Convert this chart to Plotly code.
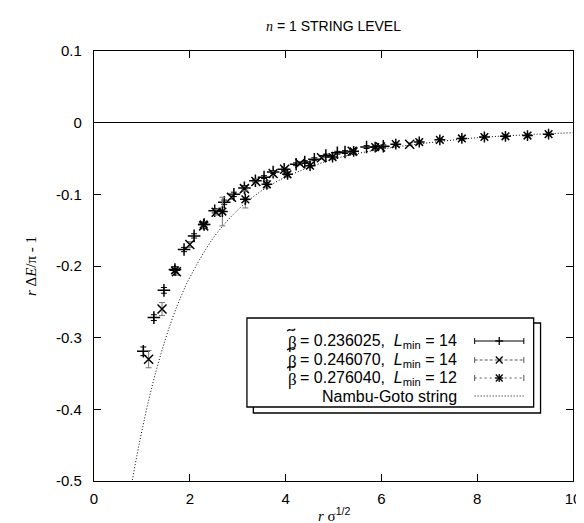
import plotly.graph_objects as go

# ---------------- data ----------------
# beta~ = 0.236025, Lmin = 14   ('+')
s1_x = [1.03, 1.25, 1.46, 1.69, 1.88, 2.09, 2.30, 2.52, 2.72, 2.92, 3.14, 3.37, 3.55,
        3.74, 3.97, 4.22, 4.40, 4.60, 4.84, 5.08, 5.24, 5.69, 6.04]
s1_y = [-0.319, -0.272, -0.234, -0.205, -0.177, -0.158, -0.142, -0.123, -0.111, -0.100,
        -0.091, -0.081, -0.076, -0.069, -0.065, -0.058, -0.055, -0.051, -0.046, -0.042,
        -0.041, -0.034, -0.033]
s1_e = [0.006, 0.004, 0.004, 0.004, 0.003, 0.003, 0.003, 0.003, 0.003, 0.003, 0.003,
        0.002, 0.002, 0.002, 0.002, 0.002, 0.002, 0.002, 0.002, 0.002, 0.002, 0.002, 0.002]

# beta~ = 0.246070, Lmin = 14   ('x')
s2_x = [1.14, 1.42, 1.72, 2.00, 2.29, 2.55, 2.87, 3.14, 3.38, 3.74, 3.98, 4.30, 4.75,
        5.39, 5.98, 6.59]
s2_y = [-0.330, -0.260, -0.208, -0.170, -0.144, -0.125, -0.104, -0.092, -0.082, -0.071,
        -0.065, -0.057, -0.049, -0.040, -0.034, -0.030]
s2_e = [0.012, 0.009, 0.005, 0.004, 0.004, 0.004, 0.003, 0.003, 0.003, 0.003, 0.002,
        0.002, 0.002, 0.002, 0.002, 0.002]

# beta~ = 0.276040, Lmin = 12   ('*')
s3_x = [1.69, 2.29, 2.68, 3.16, 3.61, 4.04, 4.51, 4.98, 5.42, 5.87, 6.30, 6.79, 7.22,
        7.68, 8.15, 8.59, 9.05, 9.49]
s3_y = [-0.206, -0.142, -0.124, -0.107, -0.086, -0.072, -0.060, -0.048, -0.040, -0.034,
        -0.030, -0.027, -0.024, -0.022, -0.020, -0.019, -0.018, -0.016]
s3_e = [0.004, 0.004, 0.020, 0.012, 0.005, 0.004, 0.003, 0.003, 0.002, 0.002, 0.002,
        0.002, 0.002, 0.002, 0.002, 0.002, 0.002, 0.002]

# Nambu-Goto string curve
ng_x = [0.77, 0.80, 0.90, 1.00, 1.20, 1.40, 1.60, 1.80, 2.00, 2.50, 3.00, 3.50, 4.00,
        5.00, 6.00, 7.00, 8.00, 9.00, 10.00]
ng_y = [-0.511, -0.499, -0.463, -0.430, -0.371, -0.322, -0.280, -0.245, -0.216, -0.160,
        -0.122, -0.095, -0.076, -0.051, -0.037, -0.028, -0.021, -0.017, -0.014]

x_ticks = [0, 2, 4, 6, 8, 10]
x_tick_labels = ["0", "2", "4", "6", "8", "10"]
y_ticks = [0.1, 0, -0.1, -0.2, -0.3, -0.4, -0.5]
y_tick_labels = ["0.1", "0", "-0.1", "-0.2", "-0.3", "-0.4", "-0.5"]

beta_values = ["0.236025", "0.246070", "0.276040"]
lmin_values = ["14", "14", "12"]
ng_label = "Nambu-Goto string"

# ---------------- figure ----------------
W, H = 584, 523
L, R, T, B = 86, 11, 43, 50
PW, PH = W - L - R, H - T - B
FONT = "Liberation Sans, Arial, sans-serif"
SERIF = "Liberation Serif"


def PX(px):
    return (px - L) / PW


def PY(py):
    return (H - B - py) / PH


fig = go.Figure()

fig.add_trace(go.Scatter(x=ng_x, y=ng_y, mode="lines", line_shape="spline",
                         line=dict(color="black", width=1, dash="1px,2px"),
                         hoverinfo="skip", showlegend=False))

series = [
    (s1_x, s1_y, s1_e, "cross-thin", "black"),
    (s2_x, s2_y, s2_e, "x-thin", "#777777"),
    (s3_x, s3_y, s3_e, "asterisk", "#777777"),
]
for xs, ys, es, sym, ecol in series:
    fig.add_trace(go.Scatter(
        x=xs, y=ys, mode="markers",
        marker=dict(symbol=sym, size=9, color="black",
                    line=dict(color="black", width=1.5)),
        error_y=dict(type="data", array=es, visible=True, color=ecol,
                     thickness=1, width=3),
        showlegend=False))

fig.update_xaxes(range=[0, 10], tickvals=x_ticks, ticktext=x_tick_labels,
                 ticks="inside", ticklen=7, tickcolor="black", mirror="allticks",
                 showline=True, linecolor="black", linewidth=1.3, showgrid=False,
                 zeroline=False, ticklabelstandoff=4,
                 tickfont=dict(family=FONT, size=15, color="black"))
fig.update_yaxes(range=[-0.5, 0.1], tickvals=y_ticks, ticktext=y_tick_labels,
                 ticks="inside", ticklen=7, tickcolor="black", mirror="allticks",
                 showline=True, linecolor="black", linewidth=1.3, showgrid=False,
                 zeroline=True, zerolinecolor="black", zerolinewidth=1.3,
                 ticklabelstandoff=8,
                 tickfont=dict(family=FONT, size=15, color="black"))

ann = []
ann.append(dict(text=f"<span style='font-family:{SERIF}'><i>n</i></span> = 1 STRING LEVEL",
                x=0.5, y=PY(18), xref="paper", yref="paper", showarrow=False,
                font=dict(family=FONT, size=14, color="black"),
                xanchor="center", yanchor="middle"))
ann.append(dict(text=f"<span style='font-family:{SERIF}'><i>r</i> σ</span><sup>1/2</sup>",
                x=0.5, y=PY(518), xref="paper", yref="paper", showarrow=False,
                font=dict(family=FONT, size=15, color="black"),
                xanchor="center", yanchor="bottom"))
ann.append(dict(text="<i>r</i> Δ<i>E</i>/π - 1",
                x=PX(22), y=0.5, xref="paper", yref="paper", showarrow=False,
                textangle=-90, font=dict(family=SERIF, size=15, color="black"),
                xanchor="center", yanchor="middle"))

shapes = []
# legend box with shadow
shapes.append(dict(type="rect", xref="paper", yref="paper",
                   x0=PX(248), x1=PX(540), y0=PY(315), y1=PY(405),
                   line=dict(color="black", width=1.3), fillcolor="white", layer="above"))
shapes.append(dict(type="rect", xref="paper", yref="paper",
                   x0=PX(241.5), x1=PX(533), y0=PY(310), y1=PY(399),
                   line=dict(color="black", width=1.3), fillcolor="white", layer="above"))

rows = [333, 352, 370, 388]
sx0, sx1, sxc = 473, 523, 498
dashes = ["solid", "3px,2px", "2px,3px"]
BX = 281
for i, ry in enumerate(rows):
    if i < 3:
        # beta with a tilde drawn above it
        ann.append(dict(text="β", x=PX(BX), y=PY(ry + 1), xref="paper", yref="paper",
                        showarrow=False, font=dict(family=SERIF, size=17, color="black"),
                        xanchor="left", yanchor="middle"))
        cx, cy = BX + 5.5, ry - 11
        path = (f"M {PX(cx - 4)},{PY(cy + 1.2)} "
                f"C {PX(cx - 2)},{PY(cy - 3)} {PX(cx + 2)},{PY(cy + 3)} "
                f"{PX(cx + 4)},{PY(cy - 1.2)}")
        shapes.append(dict(type="path", xref="paper", yref="paper", path=path,
                           line=dict(color="black", width=1.3), layer="above"))
        txt = f"= {beta_values[i]},  <i>L</i><sub>min</sub> = {lmin_values[i]}"
        ann.append(dict(text=txt, x=PX(457), y=PY(ry), xref="paper", yref="paper",
                        showarrow=False, font=dict(family=FONT, size=16, color="black"),
                        xanchor="right", yanchor="middle"))
        col = "black" if i == 0 else "#555555"
        shapes.append(dict(type="line", xref="paper", yref="paper",
                           x0=PX(sx0), x1=PX(sx1), y0=PY(ry), y1=PY(ry),
                           line=dict(color=col, width=1, dash=dashes[i]), layer="above"))
        for ex in (sx0, sx1):
            shapes.append(dict(type="line", xref="paper", yref="paper",
                               x0=PX(ex), x1=PX(ex), y0=PY(ry - 3), y1=PY(ry + 3),
                               line=dict(color=col, width=1), layer="above"))
        segs = []
        if i in (0, 2):
            segs += [((sxc - 4, ry), (sxc + 4, ry)), ((sxc, ry - 4), (sxc, ry + 4))]
        if i in (1, 2):
            segs += [((sxc - 3.5, ry - 3.5), (sxc + 3.5, ry + 3.5)),
                     ((sxc - 3.5, ry + 3.5), (sxc + 3.5, ry - 3.5))]
        for (a, b), (c, d) in segs:
            shapes.append(dict(type="line", xref="paper", yref="paper",
                               x0=PX(a), x1=PX(c), y0=PY(b), y1=PY(d),
                               line=dict(color="black", width=1.3), layer="above"))
    else:
        ann.append(dict(text=ng_label, x=PX(457), y=PY(ry), xref="paper", yref="paper",
                        showarrow=False, font=dict(family=FONT, size=16, color="black"),
                        xanchor="right", yanchor="middle"))
        shapes.append(dict(type="line", xref="paper", yref="paper",
                           x0=PX(sx0), x1=PX(sx1), y0=PY(ry), y1=PY(ry),
                           line=dict(color="black", width=1, dash="1px,2px"), layer="above"))

fig.update_layout(width=W, height=H, margin=dict(l=L, r=R, t=T, b=B),
                  paper_bgcolor="white", plot_bgcolor="white",
                  font=dict(family=FONT, size=15, color="black"),
                  annotations=ann, shapes=shapes, showlegend=False)

fig.write_html("out.html")
